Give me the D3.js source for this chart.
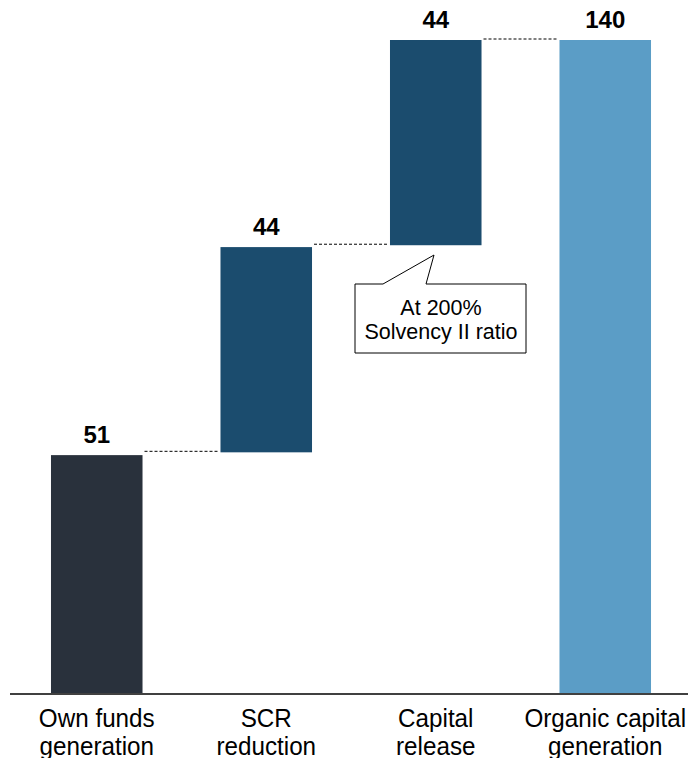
<!DOCTYPE html>
<html><head><meta charset="utf-8">
<script src="https://cdn.jsdelivr.net/npm/d3@7"></script>
<style>body{margin:0;background:#fff;}svg{display:block;font-family:"Liberation Sans",Arial,sans-serif;}</style>
</head><body>
<script>
const categories = [["Own funds","generation"],["SCR","reduction"],["Capital","release"],["Organic capital","generation"]];
const values = [51, 44, 44, 140];
const starts = [0, 51.6, 96, 0];
const labels = ["51","44","44","140"];
const colors = ["#29313c","#1b4c6e","#1b4c6e","#5b9dc6"];
const callout = ["At 200%","Solvency II ratio"];

const W=688,H=758;
const svg=d3.select("body").append("svg").attr("width",W).attr("height",H);
const x=d3.scaleBand().domain(d3.range(4)).range([12,690]).paddingInner(0.46).paddingOuter(0.23);
const y=d3.scaleLinear().domain([0,140]).range([693,40]);

// bars
svg.selectAll("rect.bar").data(values).join("rect")
  .attr("x",(d,i)=>x(i)).attr("width",x.bandwidth())
  .attr("y",(d,i)=>y(starts[i]+d)).attr("height",(d,i)=>y(starts[i])-y(starts[i]+d))
  .attr("fill",(d,i)=>colors[i]);

// connectors
for(let i=0;i<3;i++){
  const lvl = i<2 ? starts[i+1] : starts[i]+values[i];
  svg.append("line").attr("x1",x(i)+x.bandwidth()+2).attr("x2",x(i+1)-2)
    .attr("y1",y(lvl)-1).attr("y2",y(lvl)-1)
    .attr("stroke","#000").attr("stroke-width",1).attr("stroke-dasharray","3,2");
}

// value labels
svg.selectAll("text.val").data(values).join("text")
  .attr("x",(d,i)=>x(i)+x.bandwidth()/2).attr("y",(d,i)=>y(starts[i]+d)-12)
  .attr("text-anchor","middle").attr("font-weight","bold").attr("font-size",24).attr("fill","#000")
  .text((d,i)=>labels[i]);

// axis
const axis=d3.axisBottom(x).tickSize(0).tickFormat("");
const g=svg.append("g").attr("transform","translate(0,694)").call(axis);
g.select(".domain").attr("d","M10,0H688").attr("stroke","#000").attr("stroke-width",1.5);

// category labels
categories.forEach((c,i)=>{
  c.forEach((t,j)=>{
    svg.append("text").attr("transform",`translate(${x(i)+x.bandwidth()/2},${727+j*28}) scale(0.97,1)`)
      .attr("text-anchor","middle").attr("font-size",25).attr("fill","#000").text(t);
  });
});

// callout
const cx=441;
svg.append("path")
  .attr("d","M355,284 H383 L434,255 L426,284 H526 V353 H355 Z")
  .attr("fill","#fff").attr("stroke","#000").attr("stroke-width",1);
callout.forEach((t,j)=>{
  svg.append("text").attr("x",cx).attr("y",315+j*24).attr("text-anchor","middle")
    .attr("font-size",21.5).attr("fill","#000").text(t);
});
</script>
</body></html>
